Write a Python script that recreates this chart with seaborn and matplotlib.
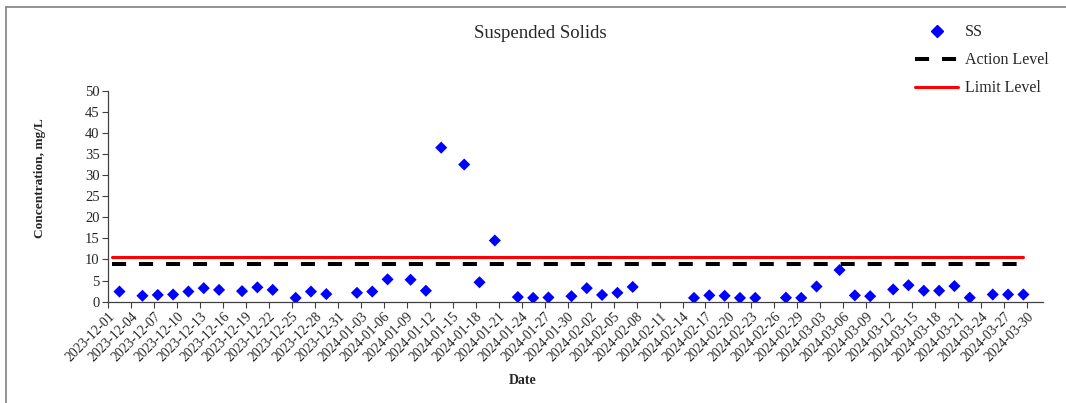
import pandas as pd
import matplotlib
matplotlib.use('Agg')
import matplotlib.pyplot as plt
import matplotlib.dates as mdates
from matplotlib.lines import Line2D
import seaborn as sns

# SS sample dates and values (mg/L)
ss_dates = ['2023-12-02', '2023-12-05', '2023-12-07', '2023-12-09', '2023-12-11',
            '2023-12-13', '2023-12-15', '2023-12-18', '2023-12-20', '2023-12-22',
            '2023-12-25', '2023-12-27', '2023-12-29', '2024-01-02', '2024-01-04',
            '2024-01-06', '2024-01-09', '2024-01-11', '2024-01-13', '2024-01-16',
            '2024-01-18', '2024-01-20', '2024-01-23', '2024-01-25', '2024-01-27',
            '2024-01-30', '2024-02-01', '2024-02-03', '2024-02-05', '2024-02-07',
            '2024-02-15', '2024-02-17', '2024-02-19', '2024-02-21', '2024-02-23',
            '2024-02-27', '2024-02-29', '2024-03-02', '2024-03-05', '2024-03-07',
            '2024-03-09', '2024-03-12', '2024-03-14', '2024-03-16', '2024-03-18',
            '2024-03-20', '2024-03-22', '2024-03-25', '2024-03-27', '2024-03-29']
ss_values = [2.4, 1.4, 1.6, 1.7, 2.4,
             3.2, 2.8, 2.5, 3.4, 2.8,
             0.9, 2.4, 1.8, 2.1, 2.4,
             5.3, 5.2, 2.6, 36.5, 32.5,
             4.6, 14.5, 1.1, 0.9, 1.0,
             1.3, 3.2, 1.6, 2.1, 3.5,
             0.9, 1.5, 1.4, 0.9, 0.9,
             0.95, 0.9, 3.6, 7.5, 1.5,
             1.3, 2.9, 3.9, 2.6, 2.6,
             3.7, 0.95, 1.7, 1.7, 1.7]

level_dates = ['2023-12-01', '2024-03-29']
action_level = 8.9
limit_level = 10.5

tick_start = '2023-12-01'
tick_end = '2024-03-30'
axis_end = '2024-04-01'

# Excel date axis puts points in the middle of each day slot
half_day = pd.Timedelta(hours=12)

df = pd.DataFrame({'Date': pd.to_datetime(ss_dates) + half_day, 'SS': ss_values})
lv = pd.DataFrame({'Date': pd.to_datetime(level_dates) + half_day,
                   'Action': [action_level] * len(level_dates),
                   'Limit': [limit_level] * len(level_dates)})

sns.set_theme(style='white')
plt.rcParams['font.family'] = ['Liberation Serif', 'DejaVu Serif']

fig = plt.figure(figsize=(10.66, 4.03), dpi=100)
ax = fig.add_axes([0.1013, 0.2514, 0.8767, 0.5236])

sns.lineplot(data=lv, x='Date', y='Limit', color='#ff0000', linewidth=2.2, ax=ax)
sns.lineplot(data=lv, x='Date', y='Action', color='black', linewidth=2.9,
             dashes=False, ax=ax)
ax.lines[-1].set_dashes((3.5, 3.2))
ax.lines[-1].set_dash_capstyle('butt')
sns.scatterplot(data=df, x='Date', y='SS', marker='D', s=38, color='#0000ff',
                edgecolor='none', ax=ax, zorder=3)

ticks = pd.date_range(tick_start, tick_end, freq='3D')
ax.set_xlim(pd.Timestamp(tick_start), pd.Timestamp(axis_end))
ax.set_xticks(ticks)
ax.xaxis.set_major_formatter(mdates.DateFormatter('%Y-%m-%d'))
plt.setp(ax.get_xticklabels(), rotation=45, ha='right', rotation_mode='anchor', fontsize=9.8)

ax.set_ylim(0, 50)
ax.set_yticks(range(0, 51, 5))
ax.tick_params(axis='y', labelsize=10.5)
ax.tick_params(axis='both', direction='out', length=4, width=0.8, color='#404040',
               bottom=True, left=True, pad=2)

for side in ['top', 'right']:
    ax.spines[side].set_visible(False)
for side in ['left', 'bottom']:
    ax.spines[side].set_color('#404040')
    ax.spines[side].set_linewidth(0.9)

ax.set_xlabel('Date', fontsize=10, fontweight='bold')
ax.xaxis.set_label_coords(0.444, -0.345)
ax.set_ylabel('Concentration, mg/L', fontsize=9.6, fontweight='bold')
ax.yaxis.set_label_coords(-0.0663, 0.586)
fig.text(0.507, 0.918, 'Suspended Solids', ha='center', va='center', fontsize=13.5)

handles = [Line2D([], [], marker='D', linestyle='none', color='#0000ff', markersize=6),
           Line2D([], [], color='black', linewidth=2.9, dashes=(3.5, 3.2), dash_capstyle='butt'),
           Line2D([], [], color='#ff0000', linewidth=2.2)]
fig.legend(handles, ['SS', 'Action Level', 'Limit Level'], loc='upper left',
           bbox_to_anchor=(0.845, 0.975), frameon=False, fontsize=11.5,
           handlelength=2.7, handletextpad=0.4, labelspacing=0.75)

# chart area border (top and left edges visible)
fig.add_artist(Line2D([6 / 1066, 6 / 1066], [0, 1 - 7 / 403], transform=fig.transFigure,
                      color='#808080', linewidth=1.2))
fig.add_artist(Line2D([6 / 1066, 1], [1 - 7 / 403, 1 - 7 / 403], transform=fig.transFigure,
                      color='#808080', linewidth=1.2))

fig.savefig('out.png', dpi=100)
